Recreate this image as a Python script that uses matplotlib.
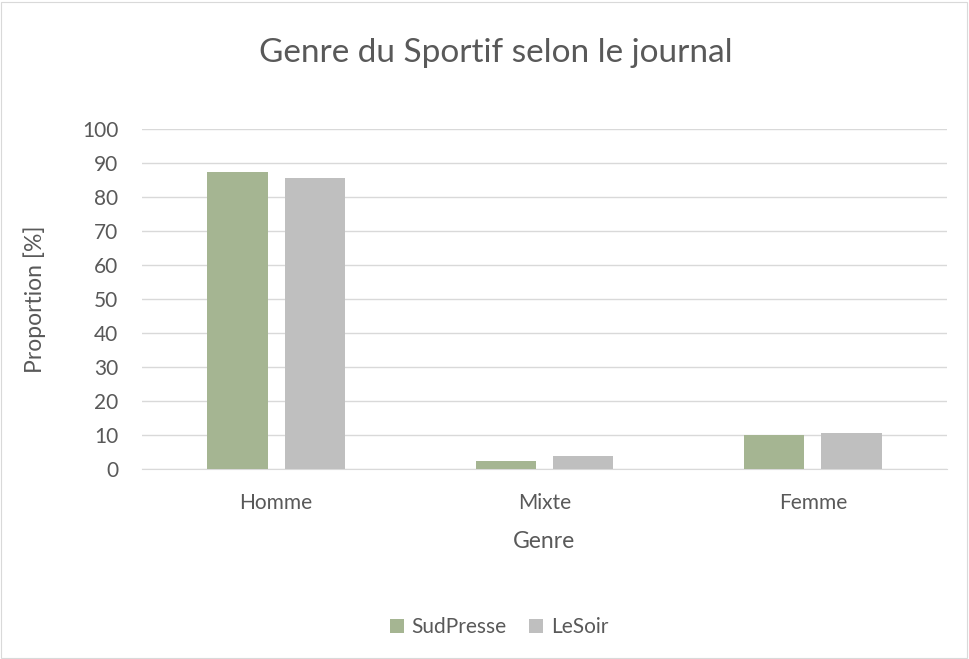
import matplotlib
matplotlib.use("Agg")
import matplotlib.pyplot as plt
from matplotlib.patches import Rectangle
import numpy as np

categories = ["Homme", "Mixte", "Femme"]
sudpresse = [87.4, 2.5, 9.9]
lesoir = [85.7, 3.8, 10.5]
yticks = [0, 10, 20, 30, 40, 50, 60, 70, 80, 90, 100]

plt.rcParams['font.family'] = ['Lato', 'DejaVu Sans']
txt = '#595959'
W, H = 969, 659
fig = plt.figure(figsize=(W/100, H/100), dpi=100)
fig.patches.append(Rectangle((1/W, 1/H), 1 - 3/W, 1 - 3/H, transform=fig.transFigure,
                             fill=False, edgecolor='#D9D9D9', linewidth=0.8))

ax = fig.add_axes([142/W, 1 - 469/H, (947-142)/W, (469-129)/H])
x = np.arange(len(categories))
bw = 0.224
off = 0.144
ax.bar(x - off, sudpresse, bw, color='#A5B592', label='SudPresse', zorder=3)
ax.bar(x + off, lesoir, bw, color='#BFBFBF', label='LeSoir', zorder=3)
ax.set_xlim(-0.5, 2.5)
ax.set_ylim(0, 100)
ax.set_yticks(yticks)
ax.set_xticks(x)
ax.set_xticklabels(categories)
ax.yaxis.grid(True, color='#D9D9D9', linewidth=1, zorder=0)
for s in ['top', 'right', 'left']:
    ax.spines[s].set_visible(False)
ax.spines['bottom'].set_color('#D9D9D9')
ax.tick_params(axis='both', length=0, colors=txt, labelsize=15)
ax.tick_params(axis='y', pad=17)
ax.tick_params(axis='x', pad=17)
ax.set_xlabel('Genre', color=txt, fontsize=16.5)
ax.xaxis.set_label_coords(0.5, -(541 - 469) / (469 - 129), transform=ax.transAxes)
ax.xaxis.label.set_va('center')
ax.set_ylabel('Proportion [%]', color=txt, fontsize=16.5)
ax.yaxis.set_label_coords(-(142 - 35) / (947 - 142), 0.5, transform=ax.transAxes)
ax.yaxis.label.set_va('center')
fig.text(496/W, 1 - 53/H, 'Genre du Sportif selon le journal', ha='center', va='center',
         color=txt, fontsize=24)
fig.legend(loc='center', bbox_to_anchor=(499/W, 1 - 627/H), ncol=2, frameon=False,
           fontsize=15, labelcolor=txt, handlelength=0.68, handleheight=0.68,
           columnspacing=1.1, handletextpad=0.35)
fig.savefig('out.png', dpi=100)
